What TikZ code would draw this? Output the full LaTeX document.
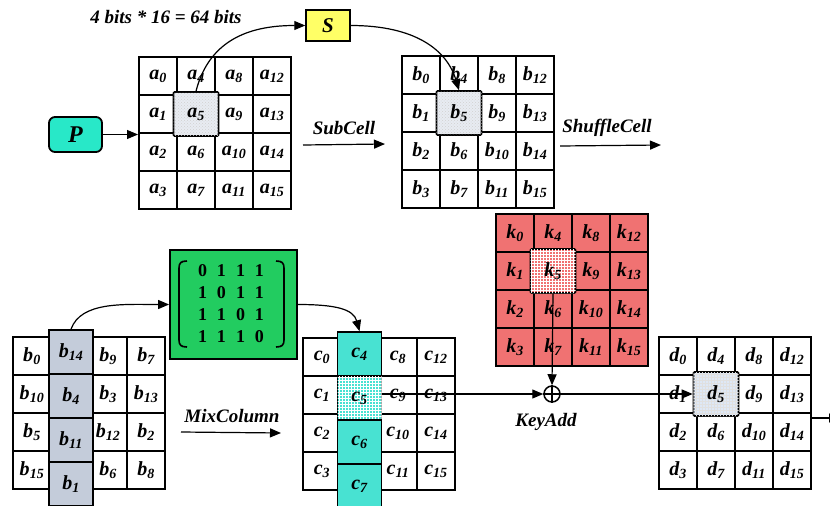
\documentclass[tikz,border=0pt]{standalone}
\usepackage{fontspec}
\setmainfont{Liberation Serif}
\usetikzlibrary{patterns,arrows.meta}
\definecolor{pteal}{RGB}{40,232,200}
\definecolor{cturq}{RGB}{72,226,210}
\definecolor{mgreen}{RGB}{34,204,96}
\definecolor{kred}{RGB}{240,114,114}
\definecolor{syel}{RGB}{255,255,102}
\definecolor{bgray}{RGB}{196,204,218}
\definecolor{hlgray}{RGB}{232,236,242}
\definecolor{hlblue}{RGB}{222,232,246}
\def\emptylab{-}
\newcommand\cv[2]{#1\textsubscript{#2}}
\newcommand\mygrid[6]{%
  \foreach \lab [count=\k from 0] in {#6} {
    \pgfmathtruncatemacro\cc{int(\k/4)}
    \pgfmathtruncatemacro\rr{mod(\k,4)}
    \edef\tmplab{\lab}%
    \ifx\tmplab\emptylab
      \node[cell,#5] (#1\k) at ({#2+38*\cc+19},{#3+38*\rr+19}) {};
    \else
      \node[cell,#5] (#1\k) at ({#2+38*\cc+19},{#3+38*\rr+19}) {\cv{#4}{\lab}};
    \fi
  }
  \node[gridbox] (#1) at ({#2+76},{#3+76}) {};
}
\begin{document}
\begin{tikzpicture}[x=1pt,y=-1pt,
  cellfont/.style={font=\fontsize{20}{22}\selectfont\bfseries\itshape},
  cell/.style={draw, line width=1.5pt, minimum width=38pt, minimum height=38pt, inner sep=0pt, cellfont},
  gridbox/.style={draw, line width=2pt, minimum width=152pt, minimum height=152pt, inner sep=0pt},
  hl/.style={draw, line width=1.6pt, minimum width=45pt, minimum height=44pt, inner sep=0pt, rounded corners=1pt, cellfont},
  colcell/.style={draw, line width=1.6pt, minimum width=44pt, minimum height=44pt, inner sep=0pt, cellfont},
  lab/.style={font=\fontsize{19}{21}\selectfont\bfseries\itshape, inner sep=0pt},
  conn/.style={line width=1.2pt, -{Triangle[length=11pt,width=9pt]}},
  plain/.style={line width=1.2pt}
]
\useasboundingbox (0,0) rectangle (830,506);

% title
\node[lab] (title) at (166,17) {4 bits * 16 = 64 bits};

% grid A
\mygrid{A}{139}{57}{a}{}{0,1,2,3,4,5,6,7,8,9,10,11,12,13,14,15}
\node[hl, fill=hlgray, postaction={pattern=crosshatch dots, pattern color=black!18}] (A5h) at (A5) {\cv{a}{5}};

% P
\node[draw, line width=1.8pt, rounded corners=6pt, fill=pteal, minimum width=53pt, minimum height=35pt, inner sep=0pt, font=\fontsize{24}{26}\selectfont\bfseries\itshape] (P) at (75.5,134.5) {P};
\draw[conn] (P.east) -- (P.east -| A.west);

% S box
\node[draw, line width=1.5pt, fill=syel, minimum width=44pt, minimum height=31pt, lab, font=\fontsize{21}{23}\selectfont\bfseries\itshape] (S) at (328,25.5) {S};

% grid B
\mygrid{B}{402}{56}{b}{}{0,1,2,3,4,5,6,7,8,9,10,11,12,13,14,15}
\node[hl, fill=hlgray, postaction={pattern=crosshatch dots, pattern color=black!18}] (B5h) at (B5) {\cv{b}{5}};

\draw[conn] (A5h.north) .. controls +(14,-55) and +(-50,0) .. (S.west);
\draw[conn] (S.east) .. controls +(65,0) and +(-12,-40) .. (B5h.north);

% SubCell / ShuffleCell
\draw[conn] ([shift={(11,12)}]A.east) -- ([shift={(-16,12)}]B.west);
\node[lab] (subcell) at (344,128) {SubCell};
\coordinate (shufend) at (661,145);
\draw[conn] ([shift={(5,14)}]B.east) -- (shufend);
\node[lab] (shuffle) at (607,128) {ShuffleCell};

% grid K
\mygrid{K}{496}{214}{k}{fill=kred}{0,1,2,3,4,5,6,7,8,9,10,11,12,13,14,15}
\node[hl, fill=kred, postaction={pattern=grid, pattern color=white}] (K5h) at (K5) {\cv{k}{5}};

% bottom-left grid (shuffled)
\mygrid{L}{13}{337}{b}{}{0,10,5,15,-,-,-,-,9,3,12,6,7,13,2,8}
\foreach \lab [count=\r from 0] in {14,4,11,1} {
  \node[colcell, fill=bgray] (Lc\r) at (71,{330+22+44*\r}) {\cv{b}{\lab}};
}

% matrix
\node[draw, line width=1.8pt, fill=mgreen, minimum width=127pt, minimum height=109pt, inner sep=0pt] (M) at (233.5,304.5) {};
\node[font=\fontsize{18}{22}\selectfont\bfseries, inner sep=0pt] (Mtext) at (231,305) {%
  \setlength\tabcolsep{5pt}\begin{tabular}{@{}cccc@{}}0&1&1&1\\1&0&1&1\\1&1&0&1\\1&1&1&0\end{tabular}};
\draw[line width=1.6pt] (187,261) .. controls (181,261) and (179,263) .. (179,268) -- (179,340) .. controls (179,345) and (181,347) .. (187,347);
\draw[line width=1.6pt] (276,261) .. controls (282,261) and (284,263) .. (284,268) -- (284,340) .. controls (284,345) and (282,347) .. (276,347);

% grid C
\mygrid{C}{303}{338}{c}{}{0,1,2,3,-,-,-,-,8,9,10,11,12,13,14,15}
\node[colcell, fill=cturq] (C4h) at (359.5,354) {\cv{c}{4}};
\node[colcell, fill=cturq, postaction={pattern=grid, pattern color=white}] (C5h) at (359.5,398) {\cv{c}{5}};
\node[colcell, fill=cturq] (C6h) at (359.5,442) {\cv{c}{6}};
\node[colcell, fill=cturq] (C7h) at (359.5,486) {\cv{c}{7}};

\draw[conn] (Lc0.north) .. controls +(10,-28) and +(-45,0) .. (M.west);
\draw[conn] (M.east) .. controls +(38,0) and +(-6,-22) .. (C4h.north);

% MixColumn
\draw[conn] ([shift={(15,19)}]L.east) -- ([shift={(-21,19)}]C.west);
\node[lab] (mixcol) at (232,416) {MixColumn};

% grid D
\mygrid{D}{659}{337}{d}{}{0,1,2,3,4,5,6,7,8,9,10,11,12,13,14,15}
\node[hl, fill=hlblue, postaction={pattern=grid, pattern color=black!12}] (D5h) at (D5) {\cv{d}{5}};

% XOR
\node[circle, draw, line width=1.5pt, minimum size=16pt, inner sep=0pt] (X) at (552,394) {};
\draw[line width=1.5pt] (X.north) -- (X.south) (X.west) -- (X.east);
\draw[conn] (K5h.south) -- (X.north);
\draw[conn] (C5h.east |- X.west) -- (X.west);
\draw[conn] (X.east) -- (D5h.west);
\node[lab] (keyadd) at (546,422) {KeyAdd};

\coordinate (outend) at (840,418);
\draw[conn] (D.east |- outend) -- (outend);
\end{tikzpicture}
\end{document}
